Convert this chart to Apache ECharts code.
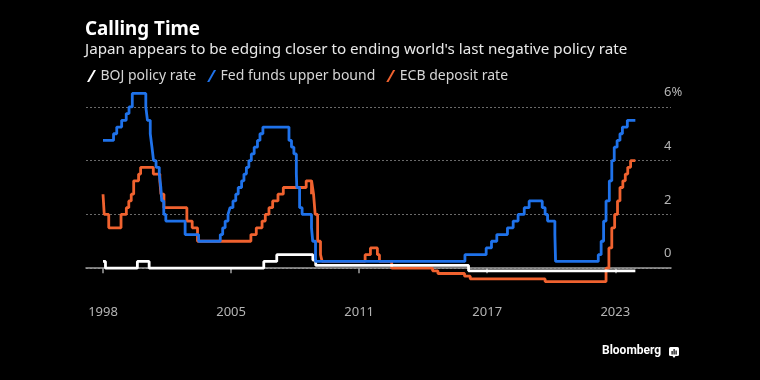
<!DOCTYPE html>
<html>
<head>
<meta charset="utf-8">
<script src="https://cdn.jsdelivr.net/npm/echarts@6/dist/echarts.min.js"></script>
<style>
html,body{margin:0;padding:0;background:#000;}
#c{width:760px;height:380px;}
</style>
</head>
<body>
<div id="c"></div>
<script>
// ---- Data (policy-rate change dates and levels, %) ----
const bojDates  = ['1999-01-01','1999-02-12','2000-08-11','2001-03-01','2006-07-14','2007-02-21','2008-10-31','2008-12-19','2016-02-16','2023-12-10'];
const bojValues = [0.25, 0.00, 0.25, 0.00, 0.25, 0.50, 0.30, 0.10, -0.10, -0.10];

const fedDates  = ['1999-01-01','1999-06-30','1999-08-24','1999-11-16','2000-02-02','2000-03-21','2000-05-16','2001-01-03','2001-01-31','2001-03-20','2001-04-18','2001-05-15','2001-06-27','2001-08-21','2001-09-17','2001-10-02','2001-11-06','2001-12-11','2002-11-06','2003-06-25','2004-06-30','2004-08-10','2004-09-21','2004-11-10','2004-12-14','2005-02-02','2005-03-22','2005-05-03','2005-06-30','2005-08-09','2005-09-20','2005-11-01','2005-12-13','2006-01-31','2006-03-28','2006-05-10','2006-06-29','2007-09-18','2007-10-31','2007-12-11','2008-01-22','2008-01-30','2008-03-18','2008-04-30','2008-10-08','2008-10-29','2008-12-16','2015-12-16','2016-12-14','2017-03-15','2017-06-14','2017-12-13','2018-03-21','2018-06-13','2018-09-26','2018-12-19','2019-07-31','2019-09-18','2019-10-30','2020-03-03','2020-03-15','2022-03-16','2022-05-04','2022-06-15','2022-07-27','2022-09-21','2022-11-02','2022-12-14','2023-02-01','2023-03-22','2023-05-03','2023-07-26','2023-12-10'];
const fedValues = [4.75,5.00,5.25,5.50,5.75,6.00,6.50,6.00,5.50,5.00,4.50,4.00,3.75,3.50,3.00,2.50,2.00,1.75,1.25,1.00,1.25,1.50,1.75,2.00,2.25,2.50,2.75,3.00,3.25,3.50,3.75,4.00,4.25,4.50,4.75,5.00,5.25,4.75,4.50,4.25,3.50,3.00,2.25,2.00,1.50,1.00,0.25,0.50,0.75,1.00,1.25,1.50,1.75,2.00,2.25,2.50,2.25,2.00,1.75,1.25,0.25,0.50,1.00,1.75,2.50,3.25,4.00,4.50,4.75,5.00,5.25,5.50,5.50];

const ecbDates  = ['1999-01-01','1999-01-22','1999-04-09','1999-11-05','2000-02-04','2000-03-17','2000-04-28','2000-06-09','2000-09-01','2000-10-06','2001-05-11','2001-08-31','2001-09-18','2001-11-09','2002-12-06','2003-03-07','2003-06-06','2005-12-06','2006-03-08','2006-06-15','2006-08-09','2006-10-11','2006-12-13','2007-03-14','2007-06-13','2008-07-09','2008-10-08','2008-10-09','2008-11-12','2008-12-10','2009-01-21','2009-03-11','2009-04-08','2011-04-13','2011-07-13','2011-11-09','2011-12-14','2012-07-11','2014-06-11','2014-09-10','2015-12-09','2016-03-16','2019-09-18','2022-07-27','2022-09-14','2022-11-02','2022-12-21','2023-02-08','2023-03-22','2023-05-10','2023-06-21','2023-08-02','2023-09-20','2023-12-10'];
const ecbValues = [2.75,2.00,1.50,2.00,2.25,2.50,2.75,3.25,3.50,3.75,3.50,3.25,2.75,2.25,1.75,1.50,1.00,1.25,1.50,1.75,2.00,2.25,2.50,2.75,3.00,3.25,2.75,3.25,2.75,2.00,1.00,0.50,0.25,0.50,0.75,0.50,0.25,0.00,-0.10,-0.20,-0.30,-0.40,-0.50,0.00,0.75,1.50,2.00,2.50,3.00,3.25,3.50,3.75,4.00,4.00];

const seriesNames = ['BOJ policy rate','Fed funds upper bound','ECB deposit rate'];
const xTickYears  = [1999, 2005, 2011, 2017, 2023];
const xTickLabels = ['1998','2005','2011','2017','2023'];
const yTicks      = [0, 2, 4, 6];

// ---- helpers ----
function toYear(s){
  const p = s.split('-').map(Number);
  const y = p[0];
  const a = Date.UTC(y,0,1), b = Date.UTC(y+1,0,1);
  return y + (Date.UTC(y,p[1]-1,p[2]) - a) / (b - a);
}
function pairs(dates, vals){ return dates.map((d,i)=>[toYear(d), vals[i]]); }

const FONT = 'Noto Sans';
const colors = ['#ffffff', '#1f72ea', '#f0622f'];
const slash = 'path://M0,12 L2.2,12 L9,0 L6.8,0 Z';

const chart = echarts.init(document.getElementById('c'), null, {renderer:'canvas'});
chart.setOption({
  backgroundColor: '#000',
  animation: false,
  textStyle: {fontFamily: FONT},
  title: {
    text: 'Calling Time',
    subtext: "Japan appears to be edging closer to ending world's last negative policy rate",
    left: 80, top: 15,
    itemGap: 3,
    textStyle: {color:'#fff', fontSize:18.8, fontWeight:'bold', fontFamily: FONT},
    subtextStyle: {color:'#e8e8e8', fontSize:15.2, fontFamily: FONT}
  },
  legend: {
    left: 82, top: 64,
    itemWidth: 10, itemHeight: 12, itemGap: 11,
    data: seriesNames.map(n=>({name:n, icon: slash})),
    textStyle: {color:'#d6d6d6', fontSize:14, fontFamily: FONT, padding:[0,0,0,-1]}
  },
  grid: {left: 86, right: 89, top: 80, bottom: 85, containLabel: false},
  xAxis: {
    type: 'value',
    min: 1998.203, max: 2025.61,
    axisLine: {show:true, lineStyle:{color:'#a0a0a0', width:1.5}},
    axisTick: {show:true, length:5, customValues: xTickYears, lineStyle:{color:'#a0a0a0', width:1.5}},
    axisLabel: {
      customValues: xTickYears,
      formatter: v => { const i = xTickYears.findIndex(t=>Math.abs(t-v)<0.01); return i>=0 ? xTickLabels[i] : ''; },
      color:'#b4b4b4', fontSize:13, margin:11, fontFamily: FONT
    },
    splitLine: {show:false}
  },
  yAxis: {
    type: 'value',
    position: 'right',
    min: -1, max: 7,
    axisLine: {show:false},
    axisTick: {show:false, customValues: yTicks},
    axisLabel: {
      customValues: yTicks,
      formatter: v => v === 6 ? '6%' : String(v),
      color:'#b4b4b4', fontSize:13, fontFamily: FONT,
      inside: false, margin: -7, align:'left', verticalAlign:'bottom', padding:[0,0,8,0]
    },
    splitLine: {show:true, lineStyle:{color:'#6a6a6a', width:1, type:[2,2]}}
  },
  series: [
    {name: seriesNames[0], type:'line', step:'end', showSymbol:false, z:3,
     data: pairs(bojDates, bojValues), itemStyle:{color:colors[0]}, lineStyle:{color:colors[0], width:2.8}},
    {name: seriesNames[1], type:'line', step:'end', showSymbol:false, z:4,
     data: pairs(fedDates, fedValues), itemStyle:{color:colors[1]}, lineStyle:{color:colors[1], width:2.8}},
    {name: seriesNames[2], type:'line', step:'end', showSymbol:false, z:2,
     data: pairs(ecbDates, ecbValues), itemStyle:{color:colors[2]}, lineStyle:{color:colors[2], width:2.8}}
  ],
  graphic: [
    {type:'text', left: 602, top: 345, style:{text:'Bloomberg', fill:'#fff', font:'bold 12px Roboto'}},
    {type:'group', left: 669, top: 347, children: [
      {type:'rect', shape:{x:0,y:0,width:10,height:9,r:1.5}, style:{fill:'#fff'}},
      {type:'polygon', shape:{points:[[3.5,9],[6.5,9],[5,11]]}, style:{fill:'#fff'}},
      {type:'rect', shape:{x:2.5,y:4,width:1.2,height:3.5}, style:{fill:'#000'}},
      {type:'rect', shape:{x:4.5,y:2,width:1.2,height:5.5}, style:{fill:'#000'}},
      {type:'rect', shape:{x:6.5,y:3.5,width:1.2,height:4}, style:{fill:'#000'}}
    ]}
  ]
});
</script>
</body>
</html>
